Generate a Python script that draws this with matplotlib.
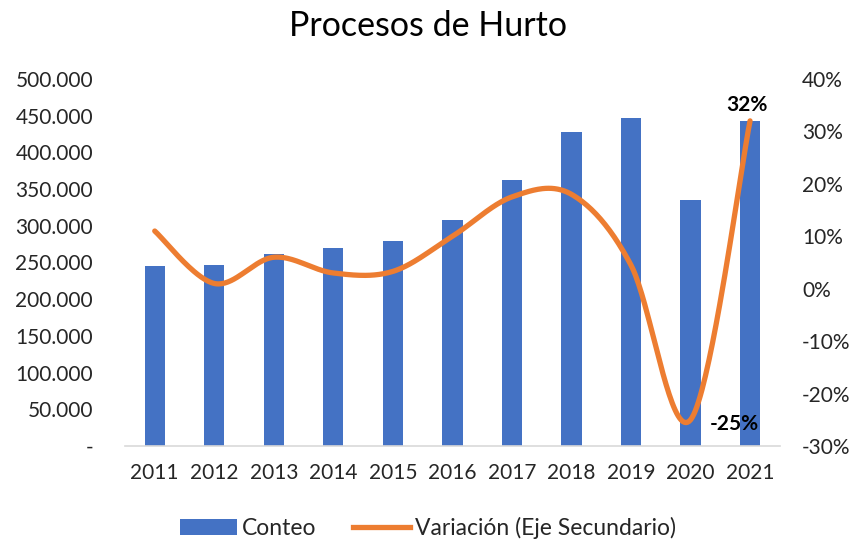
import numpy as np
import matplotlib
matplotlib.use("Agg")
import matplotlib.pyplot as plt
from matplotlib.patches import Patch
from matplotlib.lines import Line2D

plt.rcParams["font.family"] = ["Lato", "DejaVu Sans"]

# datos
years = ["2011", "2012", "2013", "2014", "2015", "2016", "2017", "2018", "2019", "2020", "2021"]
conteo = [245000, 247000, 262000, 270000, 279000, 308000, 362000, 428000, 447000, 335000, 443000]
variacion = [0.11, 0.01, 0.06, 0.03, 0.033, 0.10, 0.175, 0.18, 0.045, -0.25, 0.32]

blue = "#4472C4"
orange = "#ED7D31"
txt = "#262626"

fig = plt.figure(figsize=(8.56, 5.48), dpi=100)
ax = fig.add_axes([0.146, 0.186, 0.765, 0.67])
ax2 = ax.twinx()

x = np.arange(len(years))
ax.bar(x, conteo, width=0.34, color=blue, zorder=2)
ax.set_xlim(-0.5, len(years) - 0.5)
ax.set_ylim(0, 500000)
ax.set_yticks(np.arange(0, 500001, 50000))
ax.set_yticklabels(["-" if v == 0 else f"{v:,.0f}".replace(",", ".") for v in range(0, 500001, 50000)])
ax.set_xticks(x)
ax.set_xticklabels(years)

# linea suavizada (Catmull-Rom en espacio de pixeles aproximado)
sx, sy = 59.7, 524.0
px = x * sx
py = np.array(variacion) * sy
pts = np.column_stack([px, py])
curve = []
for i in range(len(pts) - 1):
    p0 = pts[i - 1] if i > 0 else pts[i]
    p1 = pts[i]
    p2 = pts[i + 1]
    p3 = pts[i + 2] if i + 2 < len(pts) else pts[i + 1]
    c1 = p1 + (p2 - p0) / 6
    c2 = p2 - (p3 - p1) / 6
    t = np.linspace(0, 1, 40)[:, None]
    seg = (1 - t) ** 3 * p1 + 3 * (1 - t) ** 2 * t * c1 + 3 * (1 - t) * t ** 2 * c2 + t ** 3 * p2
    curve.append(seg)
curve = np.vstack(curve)
ax2.plot(curve[:, 0] / sx, curve[:, 1] / sy, color=orange, lw=3.8, solid_capstyle="round", zorder=3)
ax2.set_ylim(-0.30, 0.40)
ax2.set_yticks(np.arange(-0.3, 0.41, 0.1))
ax2.set_yticklabels([f"{round(v * 100):d}%" for v in np.arange(-0.3, 0.41, 0.1)])

ax2.text(x[-1] - 0.05, variacion[-1] + 0.012, "32%", ha="center", va="bottom",
         fontsize=15, fontweight="bold", color="black")
ax2.text(x[-2] + 0.32, variacion[-2] - 0.008, "-25%", ha="left", va="center",
         fontsize=15, fontweight="bold", color="black")

for a in (ax, ax2):
    for s in ("top", "left", "right"):
        a.spines[s].set_visible(False)
    a.tick_params(length=0, labelsize=15, colors=txt)
ax.spines["bottom"].set_color("#D9D9D9")
ax.spines["bottom"].set_linewidth(1.2)
ax2.spines["bottom"].set_visible(False)
ax.tick_params(axis="x", pad=12)
ax.tick_params(axis="y", pad=23)
ax2.tick_params(axis="y", pad=16)
for lab in ax.get_yticklabels():
    lab.set_horizontalalignment("right")

fig.suptitle("Procesos de Hurto", fontsize=24.5, color="black", y=0.982)

handles = [Patch(facecolor=blue), Line2D([0], [0], color=orange, lw=3.8)]
fig.legend(handles, ["Conteo", "Variación (Eje Secundario)"], loc="lower center",
           bbox_to_anchor=(0.5, -0.022), ncol=2, frameon=False, fontsize=16.5,
           handlelength=2.5, handletextpad=0.2, columnspacing=1.6, labelcolor=txt)

fig.savefig("out.png", dpi=100)
